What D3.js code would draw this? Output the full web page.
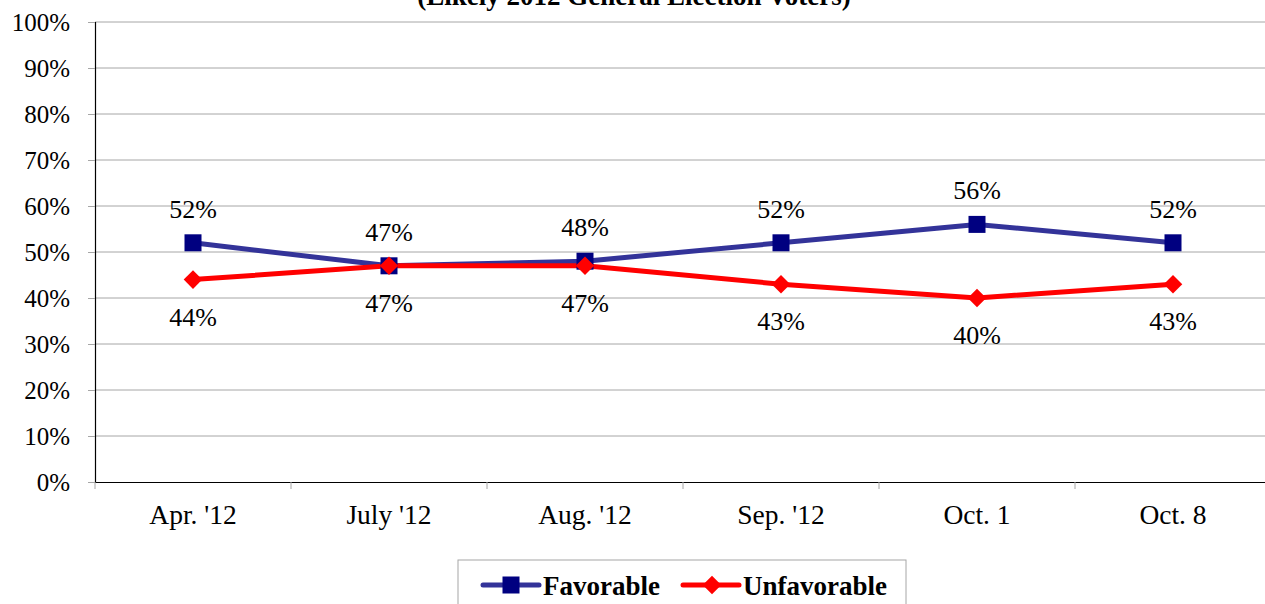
<!DOCTYPE html>
<html>
<head>
<meta charset="utf-8">
<script src="https://cdn.jsdelivr.net/npm/d3@7"></script>
<style>
  body { margin: 0; background: #fff; }
  svg { display: block; font-family: "Liberation Serif", "Times New Roman", serif; }
</style>
</head>
<body>
<svg id="chart" width="1265" height="604"></svg>
<script>
// chart data
var categories = ["Apr. '12", "July '12", "Aug. '12", "Sep. '12", "Oct. 1", "Oct. 8"];
var favorable = [52, 47, 48, 52, 56, 52];
var unfavorable = [44, 47, 47, 43, 40, 43];
var yTicks = [0, 10, 20, 30, 40, 50, 60, 70, 80, 90, 100];
var seriesNames = ["Favorable", "Unfavorable"];

var margin = { top: 22, left: 95 };
var width = 1176, height = 460;

var svg = d3.select('#chart');
var g = svg.append('g')
    .attr('transform', 'translate(' + margin.left + ',' + margin.top + ')');

var x = d3.scaleBand().domain(categories).range([0, width]);
var y = d3.scaleLinear().domain([0, 100]).range([height, 0]);

// title (cut off at top, as in the original)
svg.append('text')
    .attr('x', 634).attr('y', 5)
    .attr('text-anchor', 'middle')
    .style('font-size', '27px').style('font-weight', 'bold')
    .text('(Likely 2012 General Election Voters)');

// gridlines
g.selectAll('.grid').data(yTicks.filter(function (d) { return d > 0; }))
    .enter().append('line')
    .attr('x1', 0).attr('x2', width)
    .attr('y1', function (d) { return y(d); })
    .attr('y2', function (d) { return y(d); })
    .attr('stroke', '#a6a6a6').attr('stroke-width', 1);

// y axis
var yAxis = g.append('g')
    .call(d3.axisLeft(y).tickValues(yTicks).tickSize(7).tickPadding(18)
        .tickFormat(function (d) { return d + '%'; }));
yAxis.select('.domain').attr('stroke', '#000').attr('stroke-width', 1.2);
yAxis.selectAll('.tick line').attr('stroke', '#a6a6a6');
yAxis.selectAll('.tick text').style('font-size', '25px').attr('fill', '#000')
    .attr('font-family', '"Liberation Serif", serif');

// x axis
var xAxis = g.append('g')
    .attr('transform', 'translate(0,' + height + ')')
    .call(d3.axisBottom(x).tickSize(0));
xAxis.select('.domain').attr('stroke', '#000').attr('stroke-width', 1.2);
xAxis.selectAll('.tick text').style('font-size', '27.5px').attr('fill', '#000')
    .attr('font-family', '"Liberation Serif", serif')
    .attr('y', 42).attr('dy', 0);
xAxis.selectAll('.sep').data(d3.range(categories.length + 1))
    .enter().append('line')
    .attr('x1', function (i) { return i * x.bandwidth(); })
    .attr('x2', function (i) { return i * x.bandwidth(); })
    .attr('y1', 0).attr('y2', 7)
    .attr('stroke', '#a6a6a6');

function cx(i) { return x(categories[i]) + x.bandwidth() / 2; }

var line = d3.line()
    .x(function (d, i) { return cx(i); })
    .y(function (d) { return y(d); });

g.append('path').datum(favorable)
    .attr('fill', 'none').attr('stroke', '#333399').attr('stroke-width', 5)
    .attr('stroke-linejoin', 'round').attr('d', line);
g.append('path').datum(unfavorable)
    .attr('fill', 'none').attr('stroke', '#ff0000').attr('stroke-width', 5)
    .attr('stroke-linejoin', 'round').attr('d', line);

// markers
g.selectAll('.fav').data(favorable).enter().append('rect')
    .attr('x', function (d, i) { return cx(i) - 8.5; })
    .attr('y', function (d) { return y(d) - 8.5; })
    .attr('width', 17).attr('height', 17)
    .attr('fill', '#000080');
var diamond = d3.symbol().type(d3.symbolDiamond2).size(220);
g.selectAll('.unfav').data(unfavorable).enter().append('path')
    .attr('transform', function (d, i) { return 'translate(' + cx(i) + ',' + y(d) + ')'; })
    .attr('d', diamond)
    .attr('fill', '#ff0000');

// data labels
g.selectAll('.favLbl').data(favorable).enter().append('text')
    .attr('x', function (d, i) { return cx(i); })
    .attr('y', function (d) { return y(d) - 25; })
    .attr('text-anchor', 'middle')
    .style('font-size', '26px')
    .text(function (d) { return d + '%'; });
g.selectAll('.unfavLbl').data(unfavorable).enter().append('text')
    .attr('x', function (d, i) { return cx(i); })
    .attr('y', function (d) { return y(d) + 46; })
    .attr('text-anchor', 'middle')
    .style('font-size', '26px')
    .text(function (d) { return d + '%'; });

// legend
var legend = svg.append('g').attr('transform', 'translate(458,560)');
legend.append('rect')
    .attr('x', 0).attr('y', 0).attr('width', 448).attr('height', 60)
    .attr('fill', '#fff').attr('stroke', '#a6a6a6');
var legendItems = [
    { name: seriesNames[0], color: '#333399', mark: '#000080', x: 25, tx: 85, shape: 'square' },
    { name: seriesNames[1], color: '#ff0000', mark: '#ff0000', x: 225, tx: 285, shape: 'diamond' }
];
legendItems.forEach(function (it) {
    legend.append('line')
        .attr('x1', it.x).attr('x2', it.x + 56)
        .attr('y1', 25).attr('y2', 25)
        .attr('stroke', it.color).attr('stroke-width', 5).attr('stroke-linecap', 'round');
    if (it.shape === 'square') {
        legend.append('rect').attr('x', it.x + 19.5).attr('y', 16.5)
            .attr('width', 17).attr('height', 17).attr('fill', it.mark);
    } else {
        legend.append('path')
            .attr('transform', 'translate(' + (it.x + 29) + ',25)')
            .attr('d', diamond).attr('fill', it.mark);
    }
    legend.append('text')
        .attr('x', it.tx).attr('y', 35)
        .style('font-size', '27px').style('font-weight', 'bold')
        .text(it.name);
});
</script>
</body>
</html>
